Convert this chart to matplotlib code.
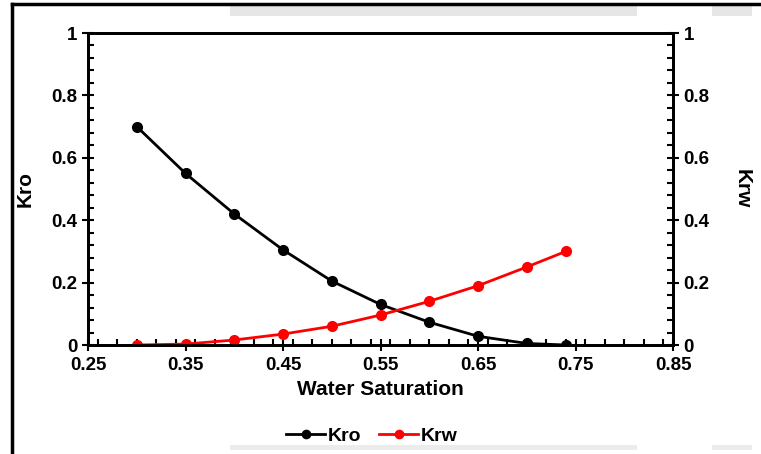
import matplotlib.pyplot as plt
from matplotlib.ticker import MultipleLocator
from matplotlib.lines import Line2D
from matplotlib.patches import Rectangle

plt.rcParams['font.family'] = ['Liberation Sans', 'DejaVu Sans']
plt.rcParams['font.weight'] = 'bold'

sw = [0.30, 0.35, 0.40, 0.45, 0.50, 0.55, 0.60, 0.65, 0.70, 0.74]
kro = [0.70, 0.55, 0.42, 0.305, 0.205, 0.13, 0.073, 0.028, 0.005, 0.0]
krw = [0.0, 0.003, 0.016, 0.035, 0.06, 0.096, 0.14, 0.19, 0.25, 0.30]
xticks = [0.25, 0.35, 0.45, 0.55, 0.65, 0.75, 0.85]
yticks = [0, 0.2, 0.4, 0.6, 0.8, 1]
ylabels = ['0', '0.2', '0.4', '0.6', '0.8', '1']

fig = plt.figure(figsize=(7.61, 4.54), dpi=100)

# page decoration: frame lines and grey bars
fig.add_artist(Line2D([12/761, 1], [1 - 4/454] * 2, color='black', lw=2.5, transform=fig.transFigure))
fig.add_artist(Line2D([12/761] * 2, [0, 1 - 4/454], color='black', lw=2.5, transform=fig.transFigure))
for x0, x1 in [(230, 637), (712, 752)]:
    fig.add_artist(Rectangle((x0/761, 1 - 16/454), (x1 - x0)/761, 10/454,
                             color='#e6e6e6', transform=fig.transFigure, lw=0))
    fig.add_artist(Rectangle((x0/761, 1 - 450/454), (x1 - x0)/761, 5/454,
                             color='#ececec', transform=fig.transFigure, lw=0))

ax = fig.add_axes([88/761, 109/454, 585/761, 312/454])
ax2 = ax.twinx()

ax.plot(sw, kro, color='black', lw=2, marker='o', ms=7, label='Kro')
ax2.plot(sw, krw, color='red', lw=2, marker='o', ms=7, label='Krw')

ax.set_xlim(0.25, 0.85)
ax.set_ylim(0, 1)
ax2.set_ylim(0, 1)
ax.xaxis.set_minor_locator(MultipleLocator(0.02))
for a in (ax, ax2):
    a.yaxis.set_minor_locator(MultipleLocator(0.04))
    for s in a.spines.values():
        s.set_linewidth(2)

ax.set_xticks(xticks)
ax.set_xticklabels(['%.2f' % v for v in xticks])
ax.set_yticks(yticks)
ax.set_yticklabels(ylabels)
ax2.set_yticks(yticks)
ax2.set_yticklabels(ylabels)

ax.tick_params(axis='both', which='major', direction='inout', length=8, width=1.5, labelsize=13.5)
ax.tick_params(axis='x', which='major', pad=5)
ax.tick_params(axis='both', which='minor', direction='in', length=4, width=1.5)
ax2.tick_params(axis='y', which='major', direction='inout', length=8, width=1.5, labelsize=13.5)
ax2.tick_params(axis='y', which='minor', direction='in', length=4, width=1.5)

ax.set_xlabel('Water Saturation', fontsize=15, fontweight='bold', labelpad=4)
ax.set_ylabel('Kro', fontsize=15, fontweight='bold', labelpad=12)
ax2.set_ylabel('Krw', fontsize=15, fontweight='bold', rotation=-90, labelpad=30)

h1, l1 = ax.get_legend_handles_labels()
h2, l2 = ax2.get_legend_handles_labels()
fig.legend(h1 + h2, l1 + l2, loc='center', bbox_to_anchor=(372/761, 1 - 436/454),
           ncol=2, frameon=False, fontsize=14, handlelength=2.0, handletextpad=0.15,
           columnspacing=0.9, markerscale=0.85)

fig.savefig('out.png', dpi=100)
